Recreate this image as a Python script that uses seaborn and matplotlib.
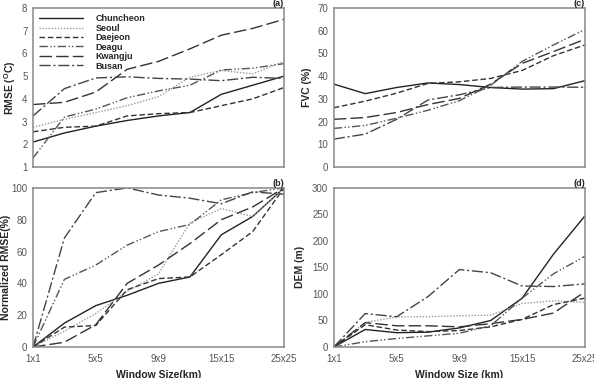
import numpy as np
import pandas as pd
import seaborn as sns
import matplotlib.pyplot as plt

# window sizes (only every other one is labelled on the axis)
windows = ["1x1", "3x3", "5x5", "7x7", "9x9", "11x11", "15x15", "21x21", "25x25"]
cities = ["Chuncheon", "Seoul", "Daejeon", "Deagu", "Kwangju", "Busan"]

# (a) RMSE (oC), rows follow `cities`
rmse = [
    [2.1, 2.5, 2.8, 3.05, 3.25, 3.4, 4.2, 4.6, 5.0],
    [2.75, 3.1, 3.4, 3.7, 4.1, 4.95, 5.25, 5.1, 5.65],
    [2.55, 2.75, 2.8, 3.25, 3.35, 3.4, 3.7, 4.0, 4.5],
    [1.4, 3.2, 3.55, 4.05, 4.35, 4.6, 5.27, 5.35, 5.55],
    [3.75, 3.85, 4.3, 5.3, 5.65, 6.2, 6.8, 7.1, 7.5],
    [3.25, 4.45, 4.92, 4.97, 4.9, 4.87, 4.8, 4.95, 4.9],
]

# (b) normalized RMSE (%)
nrmse = [
    [0, 15, 26, 32.5, 40, 44, 70.5, 82, 100],
    [0, 10, 21, 35, 46, 78, 87, 82, 100],
    [0, 12.5, 13.5, 36, 43, 44, 58, 72.5, 100],
    [0, 42.5, 51.5, 64, 72.5, 77, 92.5, 97, 100],
    [0, 3, 14, 40, 51.5, 65, 80, 88, 100],
    [0, 68.5, 97, 100, 95.5, 93.5, 90, 97.5, 96],
]

# (c) FVC (%) -- no Seoul line visible in this panel
fvc_cities = ["Chuncheon", "Daejeon", "Deagu", "Kwangju", "Busan"]
fvc = [
    [36.5, 32.3, 35.0, 37.0, 36.3, 35.0, 34.3, 34.5, 38.0],
    [26.1, 29.0, 32.5, 36.8, 37.5, 39.0, 42.5, 49.0, 53.7],
    [17.0, 18.3, 21.5, 25.0, 29.2, 36.0, 46.5, 53.7, 60.5],
    [21.0, 21.8, 24.0, 27.5, 30.2, 36.5, 45.6, 50.8, 56.2],
    [12.3, 14.5, 21.0, 29.5, 31.8, 35.0, 35.2, 35.2, 35.1],
]

# (d) DEM (m)
dem = [
    [0, 33, 27, 28, 36, 50, 92, 175, 247],
    [0, 46, 57, 57, 59, 60, 82, 87, 84],
    [0, 42, 32, 29, 31, 38, 52, 80, 92],
    [0, 10, 16, 21, 26, 40, 92, 138, 171],
    [0, 46, 40, 40, 38, 44, 52, 64, 104],
    [0, 63, 57, 95, 146, 140, 115, 114, 119],
]

palette = {"Chuncheon": "#222222", "Seoul": "#9a9a9a", "Daejeon": "#333333",
           "Deagu": "#555555", "Kwangju": "#333333", "Busan": "#444444"}
dashes = {"Chuncheon": "", "Seoul": (1, 1.2), "Daejeon": (4, 2),
          "Deagu": (6, 1.8, 1, 1.5, 1, 1.8), "Kwangju": (9, 3), "Busan": (8, 2, 1.5, 2)}


def to_long(values, names):
    rows = []
    for name, vals in zip(names, values):
        for i, v in enumerate(vals):
            rows.append({"city": name, "idx": i, "val": v})
    return pd.DataFrame(rows)


sns.set_style("white")
plt.rcParams["font.family"] = ["Liberation Sans", "DejaVu Sans"]
plt.rcParams["mathtext.fontset"] = "custom"
plt.rcParams["mathtext.bf"] = "Liberation Sans:bold"
plt.rcParams["mathtext.rm"] = "Liberation Sans"

fig = plt.figure(figsize=(5.94, 3.78), dpi=100)
w, h = 0.4226, 0.421
axa = fig.add_axes([0.0556, 0.558, w, h])
axb = fig.add_axes([0.0556, 0.082, w, h])
axc = fig.add_axes([0.562, 0.558, w, h])
axd = fig.add_axes([0.562, 0.082, w, h])

# last item: x pixel of the y-label's right edge
panels = [
    (axa, rmse, cities, (1, 8), np.arange(1, 9), r"RMSE ($\mathbf{^{O}C}$)", "(a)", None, 18),
    (axb, nrmse, cities, (0, 100), np.arange(0, 101, 20), "Normalized RMSE(%)", "(b)", "Window Size(km)", 11),
    (axc, fvc, fvc_cities, (0, 70), np.arange(0, 71, 10), "FVC (%)", "(c)", None, 312),
    (axd, dem, cities, (0, 300), np.arange(0, 301, 50), "DEM (m)", "(d)", "Window Size (km)", 305),
]

for ax, vals, names, ylim, yt, ylab, tag, xlab, ylab_x in panels:
    df = to_long(vals, names)
    sns.lineplot(data=df, x="idx", y="val", hue="city", style="city",
                 hue_order=names, style_order=names,
                 palette=palette, dashes=dashes, linewidth=1.0,
                 legend=(tag == "(a)"), ax=ax)
    ax.set_xlim(0, len(windows) - 1)
    ax.set_ylim(*ylim)
    ax.set_yticks(yt)
    ax.set_xticks(range(0, len(windows), 2))
    if xlab:
        ax.set_xticklabels(windows[::2])
        ax.set_xlabel(xlab, fontsize=7.5, fontweight="bold", labelpad=4)
    else:
        ax.set_xticklabels([])
        ax.set_xlabel("")
    ax.set_ylabel(ylab, fontsize=7.5, fontweight="bold")
    ax.yaxis.set_label_coords((ylab_x - ax.get_position().x0 * 594) / (w * 594), 0.5)
    ax.tick_params(axis="both", labelsize=7, colors="#555555", length=3,
                   direction="out", width=0.8, pad=2)
    ax.tick_params(axis="y", length=2)
    for s in ax.spines.values():
        s.set_color("#888888")
        s.set_linewidth(1.1)
    ax.text(1.0, 1.0, tag, transform=ax.transAxes, ha="right", va="bottom",
            fontsize=6.5, fontweight="bold")

sns.move_legend(axa, "upper left", title=None, frameon=False,
                prop={"weight": "bold", "size": 6.5}, handlelength=4.8,
                labelspacing=0.05, handletextpad=1.4,
                bbox_to_anchor=(0.0, 1.0), borderaxespad=0.3)

fig.savefig("out.png", dpi=100)
